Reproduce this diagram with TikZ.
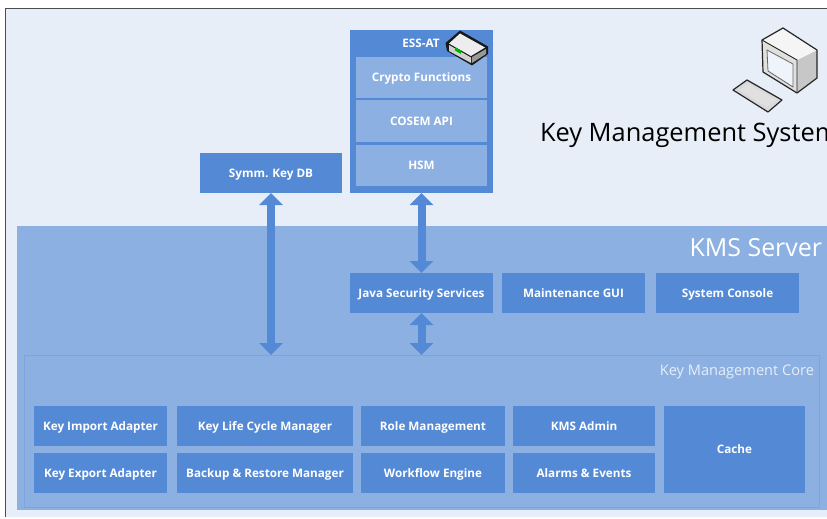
\documentclass[tikz,border=0pt]{standalone}
\usepackage{fontspec}
\setmainfont{Open Sans}
\usetikzlibrary{arrows.meta,calc}
\definecolor{pale}{HTML}{E7EEF8}
\definecolor{mid}{HTML}{8CB0E2}
\definecolor{edgec}{HTML}{7DA4DC}
\definecolor{strong}{HTML}{5489D5}
\definecolor{inner}{HTML}{8CB0E2}
\newcommand{\boxfont}{\bfseries\fontsize{11.7}{14}\selectfont}
\tikzset{
  x=1pt,y=-1pt,
  every node/.style={inner sep=0,outer sep=0},
  blockbox/.style={fill=strong,anchor=north west},
  subbox/.style={fill=inner,anchor=north west},
  boxlabel/.style={text=white,font=\boxfont,text height=9pt,text depth=3pt,yshift=-1pt},
  panel/.style={fill=mid,draw=edgec,line width=1pt,anchor=north west},
  twoway/.style={draw=strong,line width=8pt,{Triangle[width=23pt,length=12pt]}-{Triangle[width=23pt,length=12pt]}},
  iconline/.style={draw=black!85,line width=1.2pt,line join=round},
}
\newcommand{\blk}[6][blockbox]{\node[#1,minimum width=#5-#3,minimum height=#6-#4] (#2) at (#3,#4) {};}
\newcommand{\lbl}[3]{\blk{#1}#2\node[boxlabel] (#1t) at (#1.center) {#3};}
\begin{document}
\begin{tikzpicture}
\useasboundingbox (0,0) rectangle (827,519);
\clip (0,0) rectangle (827,519);
\fill[white] (0,0) rectangle (827,519);
\fill[pale] (6,9) rectangle (827,517);
\draw[black!70,line width=1pt] (5.5,517) -- (5.5,8.5) -- (827,8.5);

% KMS server panel
\node[fill=mid,anchor=north west,minimum width=810,minimum height=284] (server) at (17,226) {};
\node[panel,minimum width=795,minimum height=152] (core) at (24,355) {};
\node[anchor=base east,text=white,font=\fontsize{24.9}{30}\selectfont] (servert) at (822,256) {KMS Server};
\node[anchor=base east,text=pale,font=\fontsize{14.6}{18}\selectfont] (coret) at (814,375) {Key Management Core};
\node[anchor=base west,text=black,font=\fontsize{25.4}{31}\selectfont] (title) at (540,141.5) {Key Management System};

% upper blocks
\lbl{symm}{{200}{153}{342}{193}}{Symm. Key DB}
\blk{ess}{350}{30}{493}{193}
\node[anchor=base,text=white,font=\boxfont] (esst) at (421,48) {ESS-AT};
\blk[subbox]{crypto}{356}{57}{487}{98}
\node[boxlabel] (cryptot) at (crypto.center) {Crypto Functions};
\blk[subbox]{cosem}{356}{100}{487}{142}
\node[boxlabel] (cosemt) at (cosem.center) {COSEM API};
\blk[subbox]{hsm}{356}{145}{487}{186}
\node[boxlabel] (hsmt) at (hsm.center) {HSM};

% server row
\lbl{java}{{350}{273}{493}{313}}{Java Security Services}
\lbl{maint}{{502}{273}{645}{313}}{Maintenance GUI}
\lbl{console}{{656}{273}{799}{313}}{System Console}

% core
\lbl{kia}{{34}{406}{167}{446}}{Key Import Adapter}
\lbl{kea}{{34}{453}{167}{493}}{Key Export Adapter}
\lbl{klm}{{177}{406}{353}{446}}{Key Life Cycle Manager}
\lbl{brm}{{177}{453}{353}{493}}{Backup \& Restore Manager}
\lbl{role}{{361}{406}{505}{446}}{Role Management}
\lbl{wf}{{361}{453}{505}{493}}{Workflow Engine}
\lbl{admin}{{513}{406}{655}{446}}{KMS Admin}
\lbl{alarm}{{513}{453}{655}{493}}{Alarms \& Events}
\lbl{cache}{{664}{406}{805}{493}}{Cache}

% connectors
\draw[twoway] (symm.south) -- (symm.south |- core.north);
\draw[twoway] (ess.south) -- (java.north);
\draw[twoway] (java.south) -- (java.south |- core.north);

% ESS device icon
\fill[black!90] (460,30.5) -- (488,46.5) -- (488,54) -- (472,65.5) -- (447,51) -- (445.5,43) -- cycle;
\fill[white!93!black] (460,33.5) -- (485,47.5) -- (471,56) -- (449,43.5) -- cycle;
\fill[black!18] (449,45) -- (471,57.5) -- (471,63) -- (449,51) -- cycle;
\fill[black!40] (472,57) -- (486,49) -- (486,54) -- (472,63) -- cycle;
\fill[green!70!black] (455,47) -- (461,50.5) -- (461,54) -- (455,50.5) -- cycle;

% computer icon
\fill[black!12] (762,40) -- (797,60) -- (797,93) -- (763,72) -- cycle;
\fill[black!22] (797,60) -- (817,50) -- (817,78) -- (797,93) -- cycle;
\fill[black!4] (762,40) -- (783,28) -- (817,50) -- (797,60) -- cycle;
\draw[iconline] (783,28) -- (817,50) -- (817,78) -- (797,93) -- (763,72) -- (762,40) -- cycle;
\draw[black!85,line width=0.9pt] (762,40) -- (797,60) -- (797,93);
\path[draw=black!60,line width=0.8pt,fill=pale!65!white] (767,50) -- (793,64) -- (793,87) -- (768,71) -- cycle;
\path[iconline,fill=black!15] (747,80) -- (782,100) -- (768,112) -- (733,90) -- cycle;
\fill[white!88!black] (748,84) -- (777,100) -- (767,107) -- (739,90) -- cycle;
\end{tikzpicture}
\end{document}
